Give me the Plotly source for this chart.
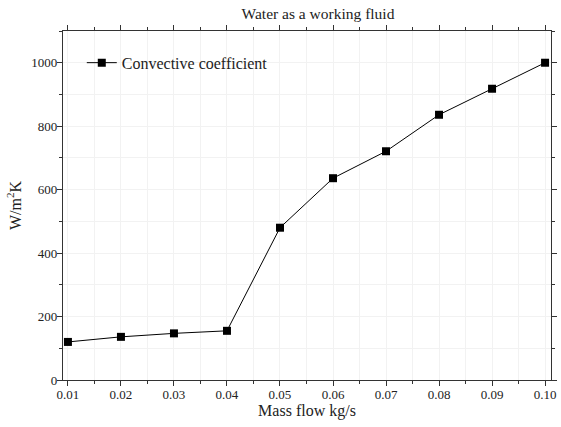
import plotly.graph_objects as go

mass_flow = [0.01, 0.02, 0.03, 0.04, 0.05, 0.06, 0.07, 0.08, 0.09, 0.10]
conv_coeff = [120, 136, 147, 155, 480, 636, 721, 836, 918, 1000]
x_ticks = [0.01, 0.02, 0.03, 0.04, 0.05, 0.06, 0.07, 0.08, 0.09, 0.10]
x_tick_labels = ["0.01", "0.02", "0.03", "0.04", "0.05", "0.06", "0.07", "0.08", "0.09", "0.10"]
y_ticks = [0, 200, 400, 600, 800, 1000]

font_family = "Liberation Serif, Times New Roman, serif"
W, H = 561, 427

fig = go.Figure()
fig.add_trace(go.Scatter(
    x=mass_flow, y=conv_coeff, mode="lines+markers",
    name="Convective coefficient",
    line=dict(color="black", width=1),
    marker=dict(symbol="square", size=8, color="black"),
))

axis_common = dict(
    showline=True, linecolor="#333333", linewidth=1.3, mirror="allticks",
    ticks="outside", ticklen=5, tickcolor="#333333", tickwidth=1,
    zeroline=False, showgrid=False, automargin=True,
    tickfont=dict(family=font_family, size=13, color="#222222"),
)

fig.update_layout(
    width=W, height=H,
    margin=dict(l=63, r=4, t=31, b=47),
    paper_bgcolor="white", plot_bgcolor="white",
    font=dict(family=font_family, color="#222222"),
    title=dict(text="Water as a working fluid", x=318 / W, xanchor="center",
               y=1 - 14 / H, yanchor="middle", font=dict(family=font_family, size=15.5, color="#222222")),
    showlegend=True,
    legend=dict(x=0.0385, y=0.909, xanchor="left", yanchor="middle", bgcolor="rgba(0,0,0,0)",
                font=dict(family=font_family, size=16, color="#222222")),
)
fig.update_xaxes(
    range=[0.00907, 0.10112], tickvals=x_ticks, ticktext=x_tick_labels,
    ticklabelstandoff=-3,
    title=dict(text="Mass flow kg/s", font=dict(family=font_family, size=16, color="#222222"), standoff=0),
    minor=dict(ticks="outside", ticklen=3, tickcolor="#333333", dtick=0.005, tick0=0.005,
               showgrid=True, gridcolor="#f2f2f2", gridwidth=1),
    **axis_common,
)
fig.update_yaxes(
    range=[0, 1100], tickvals=y_ticks,
    ticklabelstandoff=-3,
    title=dict(text="W/m<sup>2</sup>K", font=dict(family=font_family, size=16, color="#222222"), standoff=5),
    minor=dict(ticks="outside", ticklen=3, tickcolor="#333333", dtick=100, tick0=100,
               showgrid=True, gridcolor="#f2f2f2", gridwidth=1),
    **axis_common,
)

fig.write_html("out.html", config={"displayModeBar": False},
               post_script="document.body.style.margin='0';")
